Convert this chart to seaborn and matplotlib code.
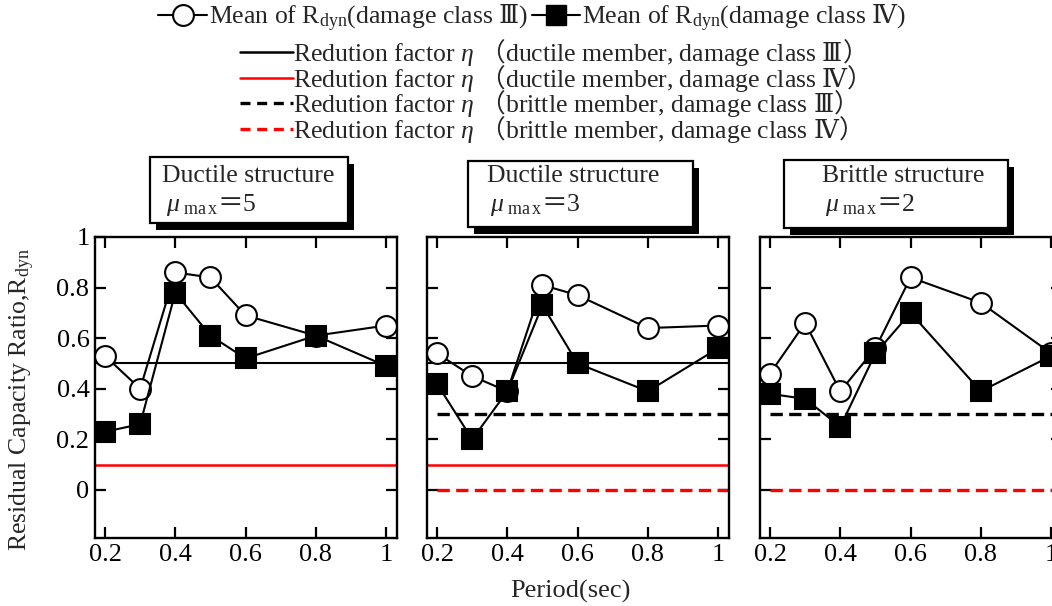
import numpy as np
import pandas as pd
import seaborn as sns
import matplotlib
matplotlib.use("Agg")
import matplotlib.pyplot as plt
from matplotlib.lines import Line2D
from matplotlib.patches import Rectangle

# ---------------- data ----------------
periods = [0.2, 0.3, 0.4, 0.5, 0.6, 0.8, 1.0]

ductile5_III = [0.53, 0.40, 0.86, 0.84, 0.69, 0.61, 0.65]
ductile5_IV = [0.23, 0.26, 0.78, 0.61, 0.52, 0.61, 0.49]

ductile3_III = [0.54, 0.45, 0.39, 0.81, 0.77, 0.64, 0.65]
ductile3_IV = [0.42, 0.20, 0.39, 0.73, 0.50, 0.39, 0.56]

brittle2_III = [0.46, 0.66, 0.39, 0.56, 0.84, 0.74, 0.54]
brittle2_IV = [0.38, 0.36, 0.25, 0.54, 0.70, 0.39, 0.53]

eta_ductile_III = 0.5
eta_ductile_IV = 0.1
eta_brittle_III = 0.3
eta_brittle_IV = 0.0

panel_titles = ["Ductile structure", "Ductile structure", "Brittle structure"]
mu_values = ["5", "3", "2"]

x_ticks = [0.2, 0.4, 0.6, 0.8, 1.0]
x_ticklabels = ["0.2", "0.4", "0.6", "0.8", "1"]
y_ticks = [0.0, 0.2, 0.4, 0.6, 0.8, 1.0]
y_ticklabels = ["0", "0.2", "0.4", "0.6", "0.8", "1"]

# ---------------- style ----------------
sns.set_style("ticks")
plt.rcParams["font.family"] = ["Liberation Serif", "DejaVu Serif", "Noto Sans CJK JP"]
plt.rcParams["mathtext.fontset"] = "custom"
plt.rcParams["mathtext.rm"] = "Liberation Serif"
plt.rcParams["mathtext.it"] = "Liberation Serif:italic"
plt.rcParams["mathtext.bf"] = "Liberation Serif:bold"
plt.rcParams["mathtext.sf"] = "DejaVu Serif"
plt.rcParams["mathtext.tt"] = "Noto Sans CJK JP"

FS = 18.5

W, H = 1052, 606
fig = plt.figure(figsize=(W / 100, H / 100), dpi=100)


def fx(px):
    return px / W


def fy(py):
    return 1 - py / H


ax_w = 302 / W
ax_h = (538 - 237) / H
lefts = [95, 427, 760]
axes = [fig.add_axes([fx(l), fy(538), ax_w, ax_h]) for l in lefts]

XL = (0.1715, 1.031)
YL = (-0.19, 1.0)

series = [
    (ductile5_III, ductile5_IV, [("solid", "black", eta_ductile_III), ("solid", "red", eta_ductile_IV)]),
    (ductile3_III, ductile3_IV, [("solid", "black", eta_ductile_III), ("solid", "red", eta_ductile_IV),
                                 ("dash", "black", eta_brittle_III), ("dash", "red", eta_brittle_IV)]),
    (brittle2_III, brittle2_IV, [("dash", "black", eta_brittle_III), ("dash", "red", eta_brittle_IV)]),
]

dash_pat = (3.7, 1.9)

for i, (ax, (s3, s4, refs)) in enumerate(zip(axes, series)):
    for kind, col, val in refs:
        if kind == "solid":
            ax.axhline(val, color=col, lw=1.5 if col == "black" else 1.8, zorder=1)
        else:
            ax.hlines(val, 0.2, XL[1], colors=col, lw=2.4, linestyles=(0, dash_pat), zorder=1)
    sns.lineplot(x=periods, y=s3, ax=ax, color="black", lw=1.5, marker="o", markersize=15,
                 markerfacecolor="white", markeredgecolor="black", markeredgewidth=1.5, zorder=3)
    sns.lineplot(x=periods, y=s4, ax=ax, color="black", lw=1.5, marker="s", markersize=14,
                 markerfacecolor="black", markeredgecolor="black", markeredgewidth=1.5, zorder=4)
    ax.set_xlim(*XL)
    ax.set_ylim(*YL)
    ax.set_xticks(x_ticks)
    ax.set_xticklabels(x_ticklabels)
    ax.set_yticks(y_ticks)
    if i == 0:
        ax.set_yticklabels(y_ticklabels)
    else:
        ax.set_yticklabels([])
    ax.set_xlabel("")
    ax.set_ylabel("")
    ax.tick_params(direction="in", length=8, width=1.6, top=True, right=True,
                   labelsize=19, pad=4, color="black", labelcolor="black")
    for sp in ax.spines.values():
        sp.set_visible(True)
        sp.set_linewidth(1.7)
        sp.set_color("black")
    ax.set_facecolor("white")

# ---------------- title boxes ----------------
boxes = [(150, 157, 348, 223), (468, 161, 693, 227), (784, 160, 1008, 228)]
text_x = [162, 487, 822]
mu_x = [166, 490, 825]
for (x0, y0, x1, y1), t, mx, mu, tx in zip(boxes, panel_titles, mu_x, mu_values, text_x):
    sh = Rectangle((fx(x0 + 6), fy(y1 + 7)), fx(x1 - x0), (y1 - y0) / H,
                   transform=fig.transFigure, facecolor="black", edgecolor="black", lw=0)
    bx = Rectangle((fx(x0), fy(y1)), fx(x1 - x0), (y1 - y0) / H,
                   transform=fig.transFigure, facecolor="white", edgecolor="black", lw=1.6)
    fig.add_artist(sh)
    fig.add_artist(bx)
    fig.text(fx(tx), fy(176), t, fontsize=FS, ha="left", va="center")
    fig.text(fx(mx), fy(205), r"$\mu_{\ \mathrm{ma\,x}}\mathtt{＝}\mathrm{" + mu + "}$",
             fontsize=FS, ha="left", va="center")

# ---------------- axis labels ----------------
fig.text(fx(22), fy(400), r"Residual Capacity Ratio,R$_{\mathrm{dyn}}$", rotation=90,
         fontsize=FS, ha="center", va="center")
fig.text(fx(570), fy(591), "Period(sec)", fontsize=FS + 0.5, ha="center", va="center")

# ---------------- legends ----------------
h_III = Line2D([], [], color="black", lw=1.5, marker="o", markersize=15,
               markerfacecolor="white", markeredgecolor="black", markeredgewidth=1.5)
h_IV = Line2D([], [], color="black", lw=1.5, marker="s", markersize=14,
              markerfacecolor="black", markeredgecolor="black")
leg1 = fig.legend([h_III, h_IV],
                  [r"Mean of R$_{\mathrm{dyn}}$(damage class $\mathsf{Ⅲ}$)",
                   r"Mean of R$_{\mathrm{dyn}}$(damage class $\mathsf{Ⅳ}$)"],
                  ncol=2, loc="center", bbox_to_anchor=(fx(532), fy(18)), frameon=False,
                  fontsize=FS, handlelength=1.9, handletextpad=0.05, columnspacing=0.15,
                  borderpad=0, borderaxespad=0)

h1 = Line2D([], [], color="black", lw=1.8)
h2 = Line2D([], [], color="red", lw=1.8)
h3 = Line2D([], [], color="black", lw=2.4, linestyle=(0, (3.0, 2.0)))
h4 = Line2D([], [], color="red", lw=2.4, linestyle=(0, (3.0, 2.0)))
labs = [r"Redution factor $\eta$ $\mathtt{（}$ductile member, damage class $\mathsf{Ⅲ}$$\mathtt{）}$",
        r"Redution factor $\eta$ $\mathtt{（}$ductile member, damage class $\mathsf{Ⅳ}$$\mathtt{）}$",
        r"Redution factor $\eta$ $\mathtt{（}$brittle member, damage class $\mathsf{Ⅲ}$$\mathtt{）}$",
        r"Redution factor $\eta$ $\mathtt{（}$brittle member, damage class $\mathsf{Ⅳ}$$\mathtt{）}$"]
leg2 = fig.legend([h1, h2, h3, h4], labs, ncol=1, loc="center left",
                  bbox_to_anchor=(fx(240), fy(91)), frameon=False, fontsize=FS,
                  handlelength=2.05, handletextpad=0.0, labelspacing=-0.21,
                  borderpad=0, borderaxespad=0)

fig.savefig("out.png", dpi=100, facecolor="white")
